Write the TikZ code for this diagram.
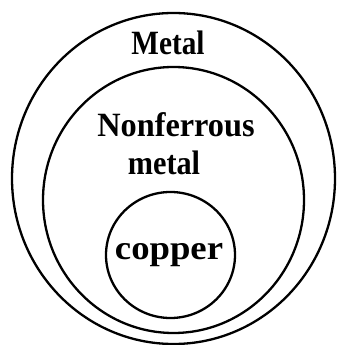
\documentclass[tikz,border=0pt]{standalone}
\usepackage{fontspec}
\setmainfont{Liberation Serif}
\usetikzlibrary{shapes.geometric}
\tikzset{
  ring/.style={draw=black, line width=2.3pt, ellipse, inner sep=0pt, outer sep=0pt},
  lbl/.style={font=\fontsize{34}{36}\selectfont\bfseries, inner sep=0pt, text=black}
}
\begin{document}
\begin{tikzpicture}[x=1pt,y=1pt]
\useasboundingbox (0,0) rectangle (338,345);
\node[ring, minimum width=323pt, minimum height=331pt] (outer) at (173.5,166.5) {};
\node[ring, minimum width=261pt, minimum height=266pt] (middle) at (173.5,145) {};
\node[ring, minimum width=129pt, minimum height=126pt] (inner) at (170.5,90) {};
\node[lbl] (metal) at (168,302) {\scalebox{0.86}[1]{Metal}};
\node[lbl] (nonf) at (176,220) {\scalebox{0.95}[1]{Nonferrous}};
\node[lbl] (metal2) at (164,182) {\scalebox{0.89}[1]{metal}};
\node[lbl] (copper) at (169,90) {\scalebox{1.08}[1]{copper}};
\end{tikzpicture}
\end{document}
